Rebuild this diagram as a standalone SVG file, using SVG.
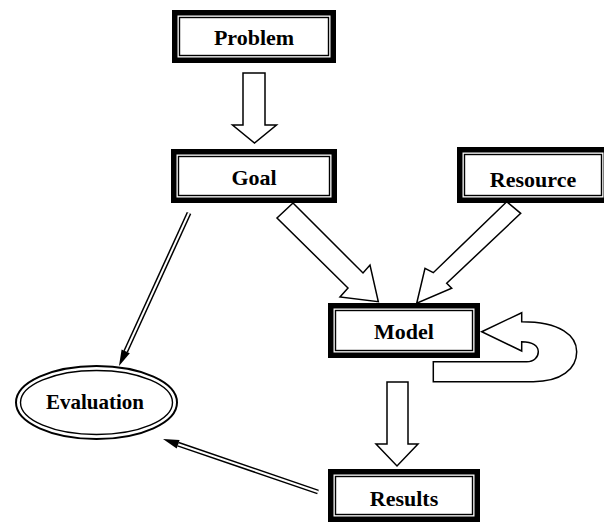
<svg xmlns="http://www.w3.org/2000/svg" width="604" height="522" viewBox="0 0 604 522">
  <style>
    .frame { fill: #fff; stroke: #000; stroke-width: 5.5; }
    .inner { fill: none; stroke: #000; stroke-width: 1.4; }
    .label { font-family: "Liberation Serif", "Times New Roman", serif; font-weight: bold; font-size: 22px; text-anchor: middle; fill: #000; }
    .block { fill: #fff; stroke: #000; stroke-width: 1.5; stroke-linejoin: miter; }
    .rail-outer { stroke: #000; stroke-width: 5; fill: none; }
    .rail-inner { stroke: #fff; stroke-width: 2; fill: none; }
    .head { fill: #000; stroke: none; }
  </style>
  <rect width="604" height="522" fill="#fff"/>

  <g id="connectors">
    <!-- Problem -> Goal -->
    <polygon class="block" points="243,73 265,73 265,125 276.5,125 254.5,143 232.5,125 243,125"/>
    <!-- Goal -> Model -->
    <polygon class="block" points="293,203 363,273 370,265 378.3,301.7 340,297 348,288 277,218"/>
    <!-- Resource -> Model -->
    <polygon class="block" points="506.7,201.7 433.3,272.7 425,268.3 416.7,303.3 451.7,288.3 446.7,283.3 520.7,213.3"/>
    <!-- Model -> Results -->
    <polygon class="block" points="387,382 408,382 408,444 418,444 397,466 376,444 387,444"/>
    <!-- Model feedback loop -->
    <path class="block" d="M481.7,331.7 L521.7,312.7 L521.7,321.7 C561,321.7 576.7,336 576.7,351.7 C576.7,369 561,381.7 533.3,381.7 L433.3,381.7 L433.3,361.7 L526.7,361.7 C534,361.7 538.3,357 538.3,351.7 C538.3,346 533,341.7 521.7,341.7 L521.7,351 Z"/>
    <!-- Goal -> Evaluation -->
    <line class="rail-outer" x1="189" y1="213" x2="125.7" y2="351.5"/>
    <line class="rail-inner" x1="189" y1="213" x2="125.7" y2="351.5"/>
    <polygon class="head" points="119,366 129.8,353.3 121.6,349.6"/>
    <!-- Results -> Evaluation -->
    <line class="rail-outer" x1="318" y1="492" x2="178.1" y2="444.2"/>
    <line class="rail-inner" x1="318" y1="492" x2="178.1" y2="444.2"/>
    <polygon class="head" points="163,439 179.6,439.9 176.7,448.4"/>
  </g>

  <g id="problem">
    <rect class="frame" x="174.75" y="12.75" width="158.5" height="47.5"/>
    <rect class="inner" x="179.5" y="17.5" width="149" height="38"/>
    <text class="label" x="254" y="45">Problem</text>
  </g>

  <g id="goal">
    <rect class="frame" x="173.75" y="151.75" width="160.5" height="48.5"/>
    <rect class="inner" x="178.5" y="156.5" width="151" height="39"/>
    <text class="label" x="254" y="185">Goal</text>
  </g>

  <g id="resource">
    <rect class="frame" x="459.75" y="149.75" width="146.5" height="50.5"/>
    <rect class="inner" x="464.5" y="154.5" width="137" height="41"/>
    <text class="label" x="533" y="186.5">Resource</text>
  </g>

  <g id="model">
    <rect class="frame" x="330.75" y="305.75" width="146.5" height="49.5"/>
    <rect class="inner" x="335.5" y="310.5" width="137" height="40"/>
    <text class="label" x="404" y="339">Model</text>
  </g>

  <g id="results">
    <rect class="frame" x="330.75" y="471.75" width="146.5" height="47.5"/>
    <rect class="inner" x="335.5" y="476.5" width="137" height="38"/>
    <text class="label" x="404" y="505.5">Results</text>
  </g>

  <g id="evaluation">
    <ellipse cx="96.5" cy="402.5" rx="80.5" ry="36.5" fill="#fff" stroke="#000" stroke-width="2"/>
    <ellipse cx="96.5" cy="402.5" rx="76" ry="32" fill="none" stroke="#000" stroke-width="1.4"/>
    <text class="label" x="95" y="409" style="font-size:21px">Evaluation</text>
  </g>
</svg>
